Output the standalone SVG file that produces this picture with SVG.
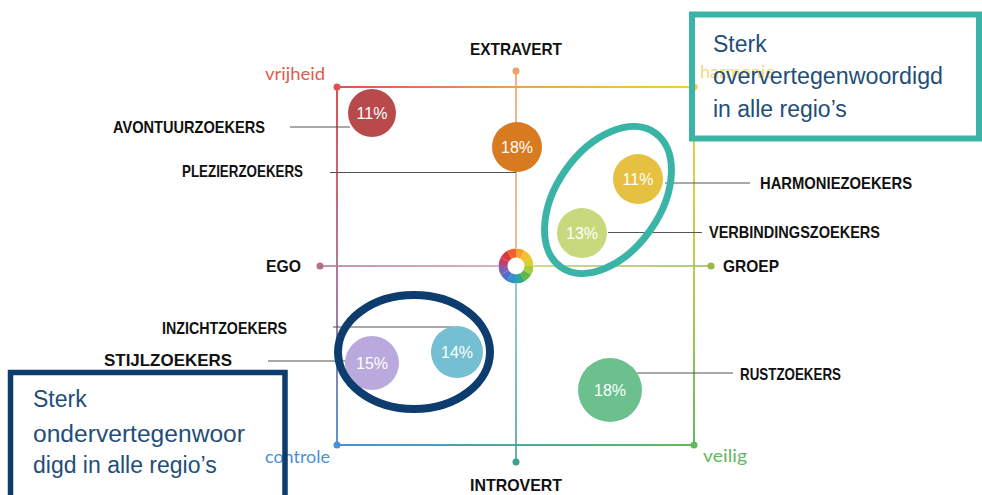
<svg xmlns="http://www.w3.org/2000/svg" width="982" height="495" viewBox="0 0 982 495">
<defs>
<linearGradient id="gTop" gradientUnits="userSpaceOnUse" x1="337" y1="0" x2="694" y2="0">
<stop offset="0" stop-color="#e05050"/><stop offset="0.5" stop-color="#f0a050"/><stop offset="1" stop-color="#f0d040"/>
</linearGradient>
<linearGradient id="gLeft" gradientUnits="userSpaceOnUse" x1="0" y1="87" x2="0" y2="445">
<stop offset="0" stop-color="#e05050"/><stop offset="0.5" stop-color="#b47896"/><stop offset="1" stop-color="#5a92d4"/>
</linearGradient>
<linearGradient id="gBottom" gradientUnits="userSpaceOnUse" x1="337" y1="0" x2="694" y2="0">
<stop offset="0" stop-color="#4a90d8"/><stop offset="0.5" stop-color="#48ab9e"/><stop offset="1" stop-color="#62b85e"/>
</linearGradient>
<linearGradient id="gRight" gradientUnits="userSpaceOnUse" x1="0" y1="87" x2="0" y2="445">
<stop offset="0" stop-color="#f0d040"/><stop offset="0.5" stop-color="#c0cc50"/><stop offset="1" stop-color="#62b85e"/>
</linearGradient>
<linearGradient id="gVert" gradientUnits="userSpaceOnUse" x1="0" y1="71" x2="0" y2="462">
<stop offset="0" stop-color="#f0a060"/><stop offset="0.49" stop-color="#dcb090"/><stop offset="0.51" stop-color="#80bcc8"/><stop offset="1" stop-color="#40a090"/>
</linearGradient>
<linearGradient id="gHor" gradientUnits="userSpaceOnUse" x1="319" y1="0" x2="712" y2="0">
<stop offset="0" stop-color="#b07090"/><stop offset="0.49" stop-color="#c8a0b0"/><stop offset="0.51" stop-color="#c0cc70"/><stop offset="1" stop-color="#98b848"/>
</linearGradient>
</defs>
<style>
.lbl{font-family:"Liberation Sans",Arial,sans-serif;font-weight:bold;font-size:16.5px;fill:#111}
.pct{font-family:"Liberation Sans",Arial,sans-serif;font-size:16px;fill:#fff;text-anchor:middle}
.corner{font-family:"Lato","Liberation Sans",sans-serif;font-weight:400;font-size:18px}
.lead{stroke:#555;stroke-width:1.2;fill:none}
.box{font-family:"Liberation Sans",Arial,sans-serif;font-size:23px;fill:#1f4e79}
.seg{fill:none;stroke-width:9}
</style>
<rect width="982" height="495" fill="#fff"/>

<g id="frame">
<line x1="337" y1="87" x2="694" y2="87" stroke="url(#gTop)" stroke-width="2"/>
<line x1="337" y1="87" x2="337" y2="445" stroke="url(#gLeft)" stroke-width="2"/>
<line x1="337" y1="445" x2="694" y2="445" stroke="url(#gBottom)" stroke-width="2"/>
<line x1="694" y1="87" x2="694" y2="445" stroke="url(#gRight)" stroke-width="2"/>
<line x1="516" y1="71" x2="516" y2="462" stroke="url(#gVert)" stroke-width="1.6"/>
<line x1="319" y1="266" x2="712" y2="266" stroke="url(#gHor)" stroke-width="1.6"/>
<circle cx="337" cy="87" r="3.5" fill="#e05050"/>
<circle cx="694" cy="87" r="3.5" fill="#f0c840"/>
<circle cx="337" cy="445" r="3.5" fill="#4a90d8"/>
<circle cx="694" cy="445" r="3.5" fill="#62b85e"/>
<circle cx="516" cy="71" r="3.5" fill="#f0a060"/>
<circle cx="516" cy="462" r="3.5" fill="#40a090"/>
<circle cx="320" cy="266" r="3.5" fill="#b07090"/>
<circle cx="711" cy="266" r="3.5" fill="#98b848"/>
<text class="corner" x="265" y="80" fill="#e05a50" textLength="60" lengthAdjust="spacingAndGlyphs">vrijheid</text>
<text class="corner" x="700" y="78" fill="#f0c840" fill-opacity="0.7" textLength="75" lengthAdjust="spacingAndGlyphs">harmonie</text>
<text class="corner" x="265" y="463" fill="#4a90d8" textLength="65" lengthAdjust="spacingAndGlyphs">controle</text>
<text class="corner" x="703" y="462" fill="#62b85e" textLength="44" lengthAdjust="spacingAndGlyphs">veilig</text>
<text class="lbl" x="516" y="55" text-anchor="middle" textLength="92" lengthAdjust="spacingAndGlyphs">EXTRAVERT</text>
<text class="lbl" x="516" y="491" text-anchor="middle" textLength="92" lengthAdjust="spacingAndGlyphs">INTROVERT</text>
<text class="lbl" x="266" y="272" textLength="35" lengthAdjust="spacingAndGlyphs">EGO</text>
<text class="lbl" x="723" y="272" textLength="56" lengthAdjust="spacingAndGlyphs">GROEP</text>
</g>

<g id="wheel">
<circle cx="516" cy="266" r="18" fill="#fff"/>
<path class="seg" stroke="#f7a030" d="M516 253A13 13 0 0 1 522.5 254.74"/>
<path class="seg" stroke="#f5c030" d="M522.5 254.74A13 13 0 0 1 527.26 259.5"/>
<path class="seg" stroke="#d8d030" d="M527.26 259.5A13 13 0 0 1 529 266"/>
<path class="seg" stroke="#a8cc40" d="M529 266A13 13 0 0 1 527.26 272.5"/>
<path class="seg" stroke="#60b848" d="M527.26 272.5A13 13 0 0 1 522.5 277.26"/>
<path class="seg" stroke="#30a890" d="M522.5 277.26A13 13 0 0 1 516 279"/>
<path class="seg" stroke="#3090d0" d="M516 279A13 13 0 0 1 509.5 277.26"/>
<path class="seg" stroke="#5070c8" d="M509.5 277.26A13 13 0 0 1 504.74 272.5"/>
<path class="seg" stroke="#8060b0" d="M504.74 272.5A13 13 0 0 1 503 266"/>
<path class="seg" stroke="#c04070" d="M503 266A13 13 0 0 1 504.74 259.5"/>
<path class="seg" stroke="#e03838" d="M504.74 259.5A13 13 0 0 1 509.5 254.74"/>
<path class="seg" stroke="#f06030" d="M509.5 254.74A13 13 0 0 1 516 253"/>
</g>

<g id="connectors">
<line class="lead" x1="290" y1="127" x2="350" y2="127"/>
<line class="lead" x1="330" y1="172.5" x2="516" y2="172.5"/>
<line class="lead" x1="665" y1="183" x2="750" y2="183"/>
<line class="lead" x1="608" y1="232.5" x2="702" y2="232.5"/>
<line class="lead" x1="333" y1="327" x2="453" y2="327"/>
<line class="lead" x1="268" y1="361" x2="346" y2="361"/>
<line class="lead" x1="637" y1="373" x2="733" y2="373"/>
</g>

<g id="avontuurzoekers">
<circle cx="372" cy="113" r="24" fill="#b84a4c"/>
<text class="pct" x="372" y="119">11%</text>
<text class="lbl" x="113" y="133" textLength="152" lengthAdjust="spacingAndGlyphs">AVONTUURZOEKERS</text>
</g>
<g id="plezierzoekers">
<circle cx="517" cy="147" r="25" fill="#d77a20"/>
<text class="pct" x="517" y="153">18%</text>
<text class="lbl" x="182" y="177" textLength="121" lengthAdjust="spacingAndGlyphs">PLEZIERZOEKERS</text>
</g>
<g id="harmoniezoekers">
<circle cx="638" cy="179" r="25" fill="#e6c040"/>
<text class="pct" x="638" y="185">11%</text>
<text class="lbl" x="760" y="189" textLength="152" lengthAdjust="spacingAndGlyphs">HARMONIEZOEKERS</text>
</g>
<g id="verbindingszoekers">
<circle cx="582" cy="233" r="25" fill="#c6d97c"/>
<text class="pct" x="582" y="239">13%</text>
<text class="lbl" x="709" y="238" textLength="171" lengthAdjust="spacingAndGlyphs">VERBINDINGSZOEKERS</text>
</g>
<g id="inzichtzoekers">
<circle cx="457" cy="352" r="26" fill="#74bfd1"/>
<text class="pct" x="457" y="358">14%</text>
<text class="lbl" x="162" y="334" textLength="125" lengthAdjust="spacingAndGlyphs">INZICHTZOEKERS</text>
</g>
<g id="stijlzoekers">
<text class="lbl" x="104" y="366" textLength="128" lengthAdjust="spacingAndGlyphs">STIJLZOEKERS</text>
<circle cx="372" cy="363" r="27" fill="#baa9dc"/>
<text class="pct" x="372" y="369">15%</text>
</g>
<g id="rustzoekers">
<circle cx="610" cy="390" r="32" fill="#6cc08e"/>
<text class="pct" x="610" y="396">18%</text>
<text class="lbl" x="740" y="380" textLength="101" lengthAdjust="spacingAndGlyphs">RUSTZOEKERS</text>
</g>

<g id="highlight-over">
<ellipse cx="608" cy="200" rx="82" ry="52" transform="rotate(-55 608 200)" fill="none" stroke="#3bb4a8" stroke-width="7"/>
<rect x="692" y="14.5" width="287" height="124" fill="none" stroke="#3bb4a8" stroke-width="6"/>
<text class="box" x="713" y="52">Sterk</text>
<text class="box" x="713" y="84" textLength="230" lengthAdjust="spacingAndGlyphs">oververtegenwoordigd</text>
<text class="box" x="713" y="117">in alle regio’s</text>
</g>

<g id="highlight-under">
<ellipse cx="414" cy="352" rx="76" ry="57" fill="none" stroke="#0d3d6e" stroke-width="8"/>
<rect x="10.5" y="372.5" width="274.5" height="130" fill="none" stroke="#0d3d6e" stroke-width="5.5"/>
<text class="box" x="33" y="407">Sterk</text>
<text class="box" x="33" y="442" textLength="212" lengthAdjust="spacingAndGlyphs">ondervertegenwoor</text>
<text class="box" x="33" y="473">digd in alle regio’s</text>
</g>
</svg>
